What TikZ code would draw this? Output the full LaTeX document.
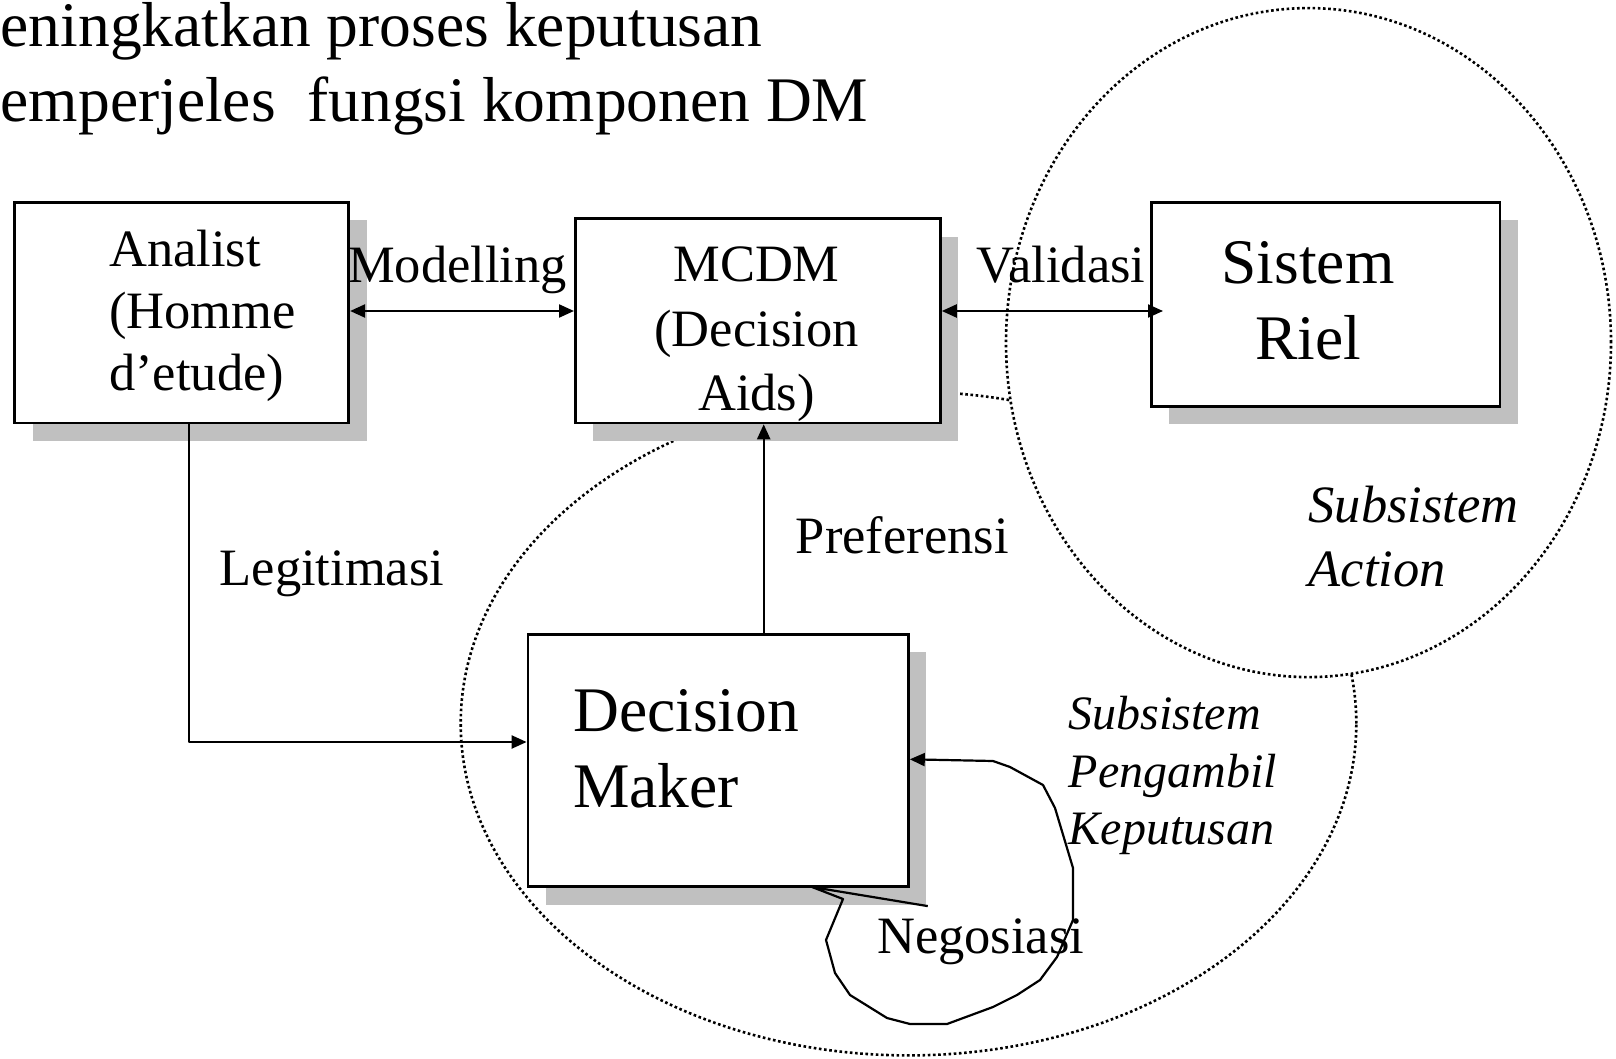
\documentclass[tikz,border=0pt]{standalone}
\usepackage{fontspec}
\setmainfont{Liberation Serif}
\usetikzlibrary{arrows.meta,shadows}
\definecolor{shadowgray}{RGB}{192,192,192}
\newcommand\szBig{\fontsize{63.5}{75}\selectfont}
\newcommand\szMid{\fontsize{52.5}{62}\selectfont}
\newcommand\szSub{\fontsize{48}{57.5}\selectfont\itshape}

\begin{document}
\begin{tikzpicture}[x=1pt,y=-1pt,
  box/.style={draw=black, line width=2.8pt, fill=white, anchor=north west,
    inner sep=0pt,
    general shadow={fill=shadowgray, shadow xshift=18pt, shadow yshift=-18pt}},
  conn/.style={line width=2.2pt, line join=round,
    arrows={-Triangle[length=15pt,width=13pt]}},
  biconn/.style={conn, arrows={Triangle[length=15pt,width=13pt]-Triangle[length=15pt,width=13pt]}},
  dotline/.style={line width=2.6pt, dash pattern=on 2.6pt off 2.6pt},
  lbl/.style={inner sep=0pt, anchor=base west, font=\szMid},
  lblc/.style={inner sep=0pt, anchor=base, font=\szMid},
  big/.style={inner sep=0pt, anchor=base west, font=\szBig},
  bigc/.style={inner sep=0pt, anchor=base, font=\szBig},
  sub/.style={inner sep=0pt, anchor=base west, font=\szSub}]

\useasboundingbox (0,0) rectangle (1616,1059);

% heading lines
\node[big] (head1) at (0.5,46.5) {eningkatkan proses keputusan};
\node[big] (head2) at (0.5,121.8) {emperjeles\ \ fungsi komponen DM};

% subsystem regions
\draw[dotline] (908.5,723.5) ellipse [x radius=447.8pt, y radius=331.9pt];
\draw[dotline, fill=white] (1308.5,342.6) ellipse [x radius=302.5pt, y radius=334.5pt];

% components
\node[box, minimum width=333.9pt, minimum height=220.5pt] (analist) at (13.4,201) {};
\node[box, minimum width=365pt, minimum height=204pt] (mcdm) at (574,217.5) {};
\node[box, minimum width=348.5pt, minimum height=204pt] (sistem) at (1150,201) {};
\node[box, minimum width=380.4pt, minimum height=252.5pt] (dm) at (526.6,632.8) {};

% box texts
\node[lbl] (analistA) at (109,266) {Analist};
\node[lbl] (analistB) at (109,328) {(Homme};
\node[lbl] (analistC) at (109,390) {d’etude)};

\node[lblc] (mcdmA) at (756.5,281.7) {MCDM};
\node[lblc] (mcdmB) at (756.5,346) {(Decision};
\node[lblc] (mcdmC) at (756.5,410) {Aids)};

\node[bigc] (sistemA) at (1308,283.3) {Sistem};
\node[bigc] (sistemB) at (1308,359.3) {Riel};

\node[big] (dmA) at (573,731) {Decision};
\node[big] (dmB) at (573,807) {Maker};

% connectors
\draw[biconn] (analist.east |- 0,311) -- (mcdm.west |- 0,311);
\draw[biconn, shorten >=-13pt] (mcdm.east |- 0,311) -- (sistem.west |- 0,311);
\draw[conn] (dm.north -| 763.7,0) -- (mcdm.south -| 763.7,0);
\draw[conn] (analist.south -| 188.6,0) |- (dm.west |- 0,742);
\draw[conn] ([shift={(18,18)}]dm.south east) -- (812,887) -- (843,899)
  -- (826,940) -- (835,973) -- (850,995) -- (887,1018) -- (910,1024)
  -- (947,1024) -- (993,1007) -- (1017,995) -- (1040,980) -- (1057,957)
  -- (1073,920) -- (1073,868) -- (1055,808) -- (1043,785) -- (1010,767)
  -- (993,761) -- (dm.east |- 0,759.3);

% connector labels
\node[lbl] (modelling) at (348,282) {Modelling};
\node[lbl] (validasi) at (976,283) {Validasi};
\node[lbl] (preferensi) at (795.6,553.4) {Preferensi};
\node[lbl] (legitimasi) at (219.5,585.4) {Legitimasi};
\node[lbl] (negosiasi) at (877,953) {Negosiasi};

% region labels
\node[sub, font=\fontsize{52.5}{62}\selectfont\itshape] (actA) at (1308.5,522) {Subsistem};
\node[sub, font=\fontsize{52.5}{62}\selectfont\itshape] (actB) at (1308.5,586) {Action};
\node[sub] (pkA) at (1068.5,729.7) {Subsistem};
\node[sub] (pkB) at (1068.5,787.2) {Pengambil};
\node[sub] (pkC) at (1068.5,844.7) {Keputusan};
\end{tikzpicture}
\end{document}
